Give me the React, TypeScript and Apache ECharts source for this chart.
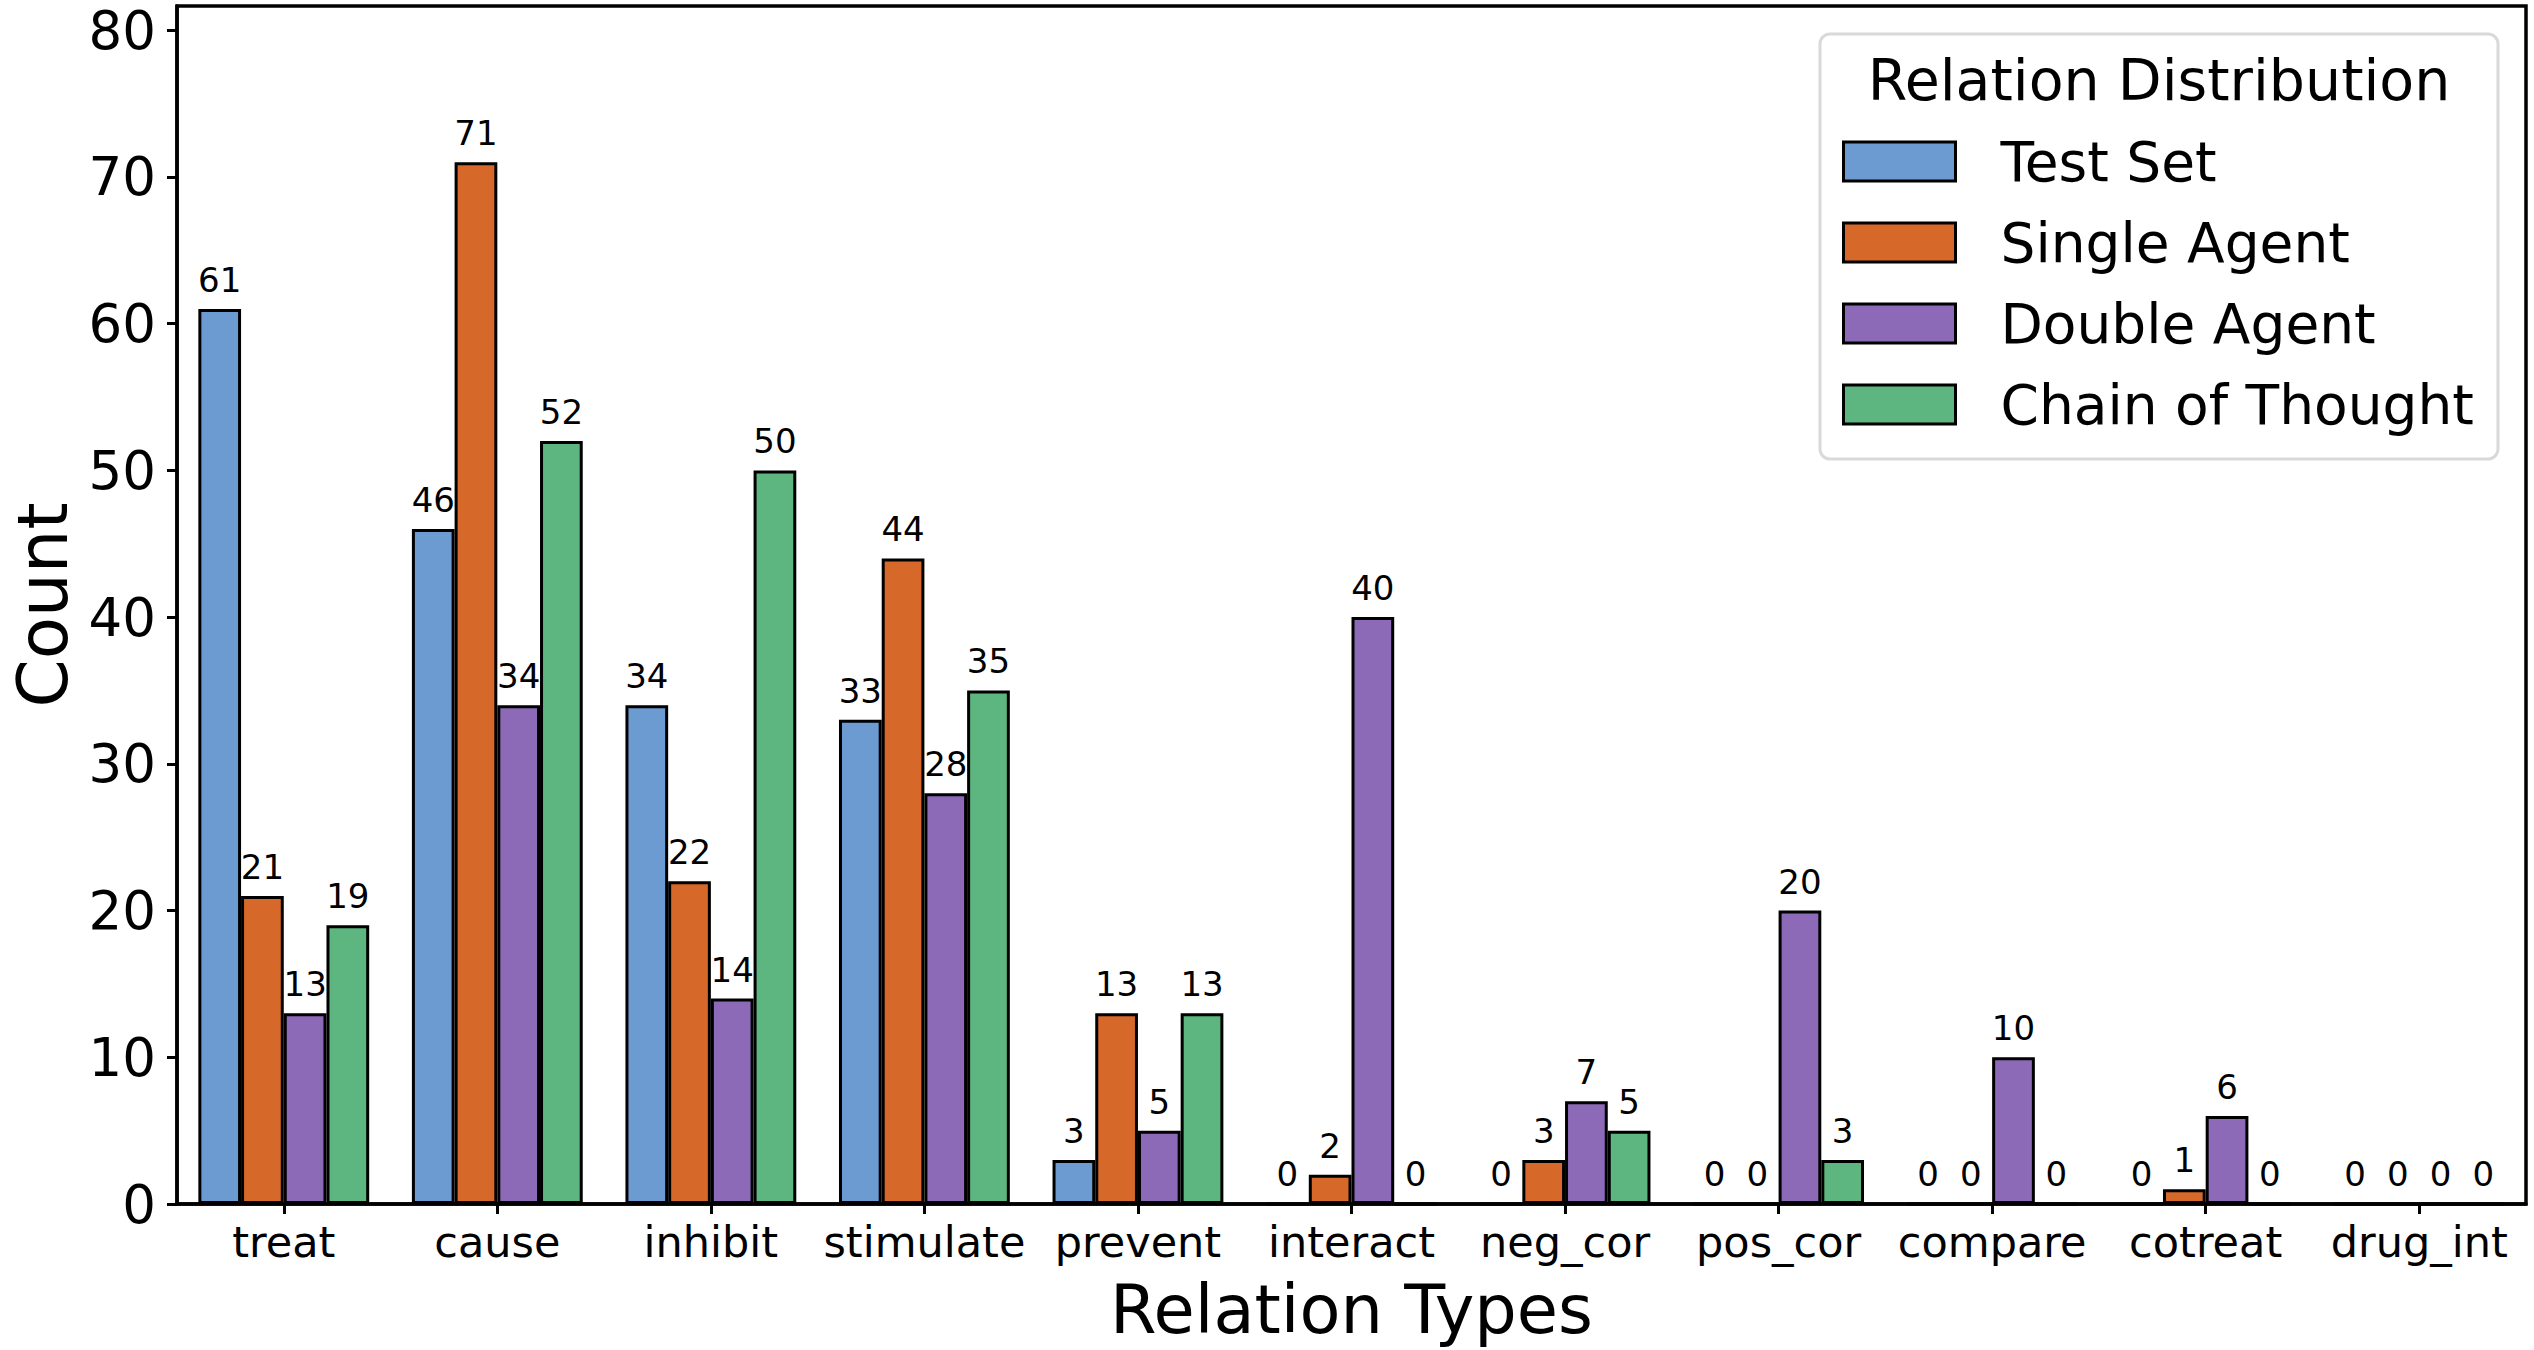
import React, { useEffect, useRef } from "react";
import * as echarts from "echarts";

const categories = ["treat", "cause", "inhibit", "stimulate", "prevent", "interact", "neg_cor", "pos_cor", "compare", "cotreat", "drug_int"];
const testSet = [61, 46, 34, 33, 3, 0, 0, 0, 0, 0, 0];
const singleAgent = [21, 71, 22, 44, 13, 2, 3, 0, 0, 1, 0];
const doubleAgent = [13, 34, 14, 28, 5, 40, 7, 20, 10, 6, 0];
const chainOfThought = [19, 52, 50, 35, 13, 0, 5, 3, 0, 0, 0];
const seriesNames = ["Test Set", "Single Agent", "Double Agent", "Chain of Thought"];
const seriesColors = ["#6b9bd1", "#d6692a", "#8d6ab7", "#5db57f"];
const yTicks = [0, 10, 20, 30, 40, 50, 60, 70, 80];
const yMax = 81.65;

const FONT = "DejaVu Sans";

export default function App() {
  const ref = useRef<HTMLDivElement>(null);
  useEffect(() => {
    if (!ref.current) return;
    const chart = echarts.init(ref.current, undefined, { renderer: "svg" });
    const dataSets = [testSet, singleAgent, doubleAgent, chainOfThought];
    const series = dataSets.map((d, i) => ({
      name: seriesNames[i],
      type: "bar",
      data: d,
      barWidth: "20%",
      barGap: "0%",
      barCategoryGap: "20%",
      itemStyle: { color: seriesColors[i], borderColor: "#000", borderWidth: 3 },
      label: {
        show: true,
        position: "top",
        distance: 12,
        fontFamily: FONT,
        fontSize: 34,
        color: "#000",
      },
      z: 2,
    }));
    chart.setOption({
      animation: false,
      backgroundColor: "#fff",
      grid: {
        left: 167,
        right: 8,
        top: 6,
        bottom: 146,
        show: true,
        borderColor: "#000",
        borderWidth: 3.5,
        backgroundColor: "transparent",
      },
      xAxis: {
        type: "category",
        data: categories,
        boundaryGap: true,
        axisLine: { show: true, lineStyle: { color: "#000", width: 3.5 } },
        axisTick: { show: true, alignWithLabel: true, length: 10, lineStyle: { color: "#000", width: 3 } },
        axisLabel: { fontFamily: FONT, fontSize: 43, color: "#000", margin: 16, interval: 0 },
        splitLine: { show: false },
        name: "Relation Types",
        nameLocation: "middle",
        nameGap: 72,
        nameTextStyle: { fontFamily: FONT, fontSize: 67, color: "#000" },
      },
      yAxis: {
        type: "value",
        min: 0,
        max: yMax,
        interval: 10,
        axisLine: { show: true, lineStyle: { color: "#000", width: 3.5 } },
        axisTick: { show: true, length: 10, lineStyle: { color: "#000", width: 3 }, customValues: yTicks },
        axisLabel: { fontFamily: FONT, fontSize: 53, lineHeight: 50, color: "#000", margin: 21, customValues: yTicks },
        splitLine: { show: false },
        name: "Count",
        nameLocation: "middle",
        nameGap: 100,
        nameRotate: 90,
        nameTextStyle: { fontFamily: FONT, fontSize: 69, color: "#000" },
      },
      legend: {
        orient: "vertical",
        left: 1842,
        top: 134,
        itemWidth: 112,
        itemHeight: 39,
        itemGap: 26,
        padding: 0,
        z: 6,
        icon: "rect",
        itemStyle: { borderColor: "#000", borderWidth: 3 },
        textStyle: { fontFamily: FONT, fontSize: 55, color: "#000", lineHeight: 39, padding: [0, 0, 0, 40] },
        data: seriesNames,
      },
      graphic: [
        {
          type: "rect",
          z: 5,
          shape: { x: 1820, y: 34, width: 678, height: 425, r: 10 },
          style: { fill: "#fff", stroke: "#d9d9d9", lineWidth: 3 },
        },
        {
          type: "text",
          z: 6,
          x: 2159,
          y: 80,
          style: {
            text: "Relation Distribution",
            fontFamily: FONT,
            fontSize: 57,
            fill: "#000",
            align: "center",
            verticalAlign: "middle",
          },
        },
      ],
      series,
    });
    return () => chart.dispose();
  }, []);
  return <div ref={ref} style={{ position: "fixed", left: 0, top: 0, width: 2534, height: 1350 }} />;
}
